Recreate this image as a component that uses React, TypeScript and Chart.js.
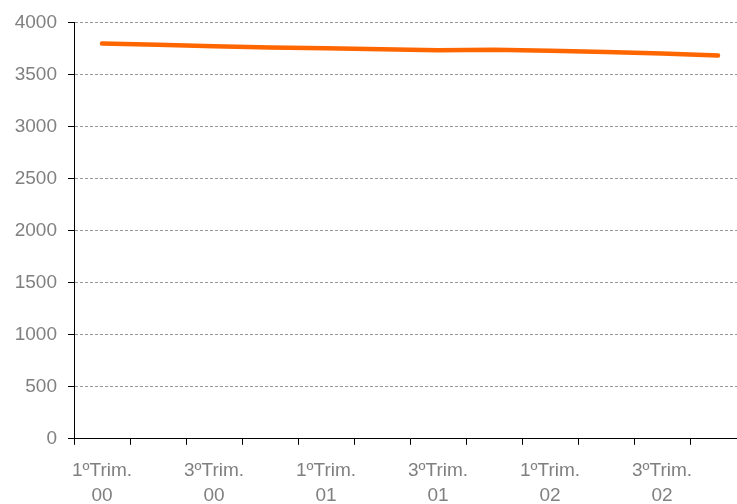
import React, { useEffect, useRef } from "react";
import { Chart, registerables } from "chart.js";

Chart.register(...registerables);

const categories: string[][] = [
  ["1ºTrim.", "00"], ["2ºTrim.", "00"], ["3ºTrim.", "00"], ["4ºTrim.", "00"],
  ["1ºTrim.", "01"], ["2ºTrim.", "01"], ["3ºTrim.", "01"], ["4ºTrim.", "01"],
  ["1ºTrim.", "02"], ["2ºTrim.", "02"], ["3ºTrim.", "02"], ["4ºTrim.", "02"],
];
const seriesValues: number[] = [3798, 3785, 3771, 3760, 3751, 3743, 3733, 3737, 3727, 3716, 3701, 3682];
const yTicks: number[] = [0, 500, 1000, 1500, 2000, 2500, 3000, 3500, 4000];

export default function App() {
  const ref = useRef<HTMLCanvasElement | null>(null);
  useEffect(() => {
    if (!ref.current) return;
    const chart = new Chart(ref.current, {
      type: "line",
      data: {
        labels: categories,
        datasets: [
          {
            data: seriesValues,
            borderColor: "#FF6600",
            borderWidth: 4.5,
            pointRadius: 0,
            tension: 0,
            borderCapStyle: "round",
            fill: false,
          },
        ],
      },
      options: {
        animation: false,
        responsive: false,
        layout: { padding: { left: 0, right: 14, top: 16, bottom: 0 } },
        plugins: { legend: { display: false }, tooltip: { enabled: false } },
        scales: {
          x: {
            offset: true,
            grid: {
              offset: true,
              drawOnChartArea: false,
              drawTicks: true,
              tickLength: 6,
              tickColor: "#000",
              color: "#000",
            },
            border: { color: "#000", width: 1 },
            ticks: {
              autoSkip: false,
              maxRotation: 0,
              padding: 13,
              color: "#808080",
              font: { family: "Liberation Sans, Arial, sans-serif", size: 19, lineHeight: 1.32 },
              callback: function (_v: any, i: number) {
                return i % 2 === 0 ? categories[i] : "";
              },
            },
          },
          y: {
            min: 0,
            max: 4000,
            afterBuildTicks: (scale: any) => {
              scale.ticks = yTicks.map((v) => ({ value: v }));
            },
            afterFit: (scale: any) => {
              scale.width = 74;
            },
            grid: {
              color: "#999",
              tickColor: "#000",
              tickLength: 6,
              tickBorderDash: [],
            } as any,
            border: { color: "#000", width: 1, dash: [3, 2] },
            ticks: {
              padding: 11,
              color: "#808080",
              font: { family: "Liberation Sans, Arial, sans-serif", size: 19 },
              callback: (v: any) => String(v),
            },
          },
        },
      },
    });
    return () => chart.destroy();
  }, []);
  return (
    <div style={{ position: "fixed", left: 0, top: 0, width: 737, height: 504, overflow: "hidden", background: "#fff" }}>
      <canvas ref={ref} width={760} height={521} style={{ display: "block" }} />
    </div>
  );
}
